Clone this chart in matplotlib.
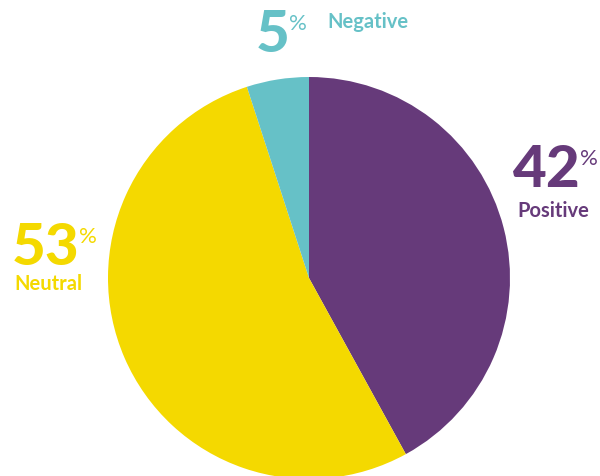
import matplotlib
matplotlib.use("Agg")
import matplotlib.pyplot as plt

labels = ["Positive", "Neutral", "Negative"]
values = [42, 53, 5]
colors = ["#663a7a", "#f4d900", "#66c1c7"]

W, H = 600, 477
fig = plt.figure(figsize=(W / 100, H / 100), dpi=100)
cx, cy, r = 309, 279, 201
ax = fig.add_axes([(cx - r) / W, 1 - (cy + r) / H, 2 * r / W, 2 * r / H])
ax.pie(values, colors=colors, startangle=90, counterclock=False, radius=1,
       wedgeprops=dict(linewidth=0))
ax.set_xlim(-1, 1)
ax.set_ylim(-1, 1)
ax.set_aspect("equal")
ax.axis("off")

def px(x, y):
    return x / W, 1 - y / H

font = "Lato"
# (digit left x, digit baseline y, label x, label baseline y)
pos = {
    "Negative": (256, 52, 327, 28),
    "Positive": (513, 187, 517, 217),
    "Neutral": (12, 265, 14, 290),
}
fig.canvas.draw()
renderer = fig.canvas.get_renderer()
for lab, val, col in zip(labels, values, colors):
    dx, dy, lx, ly = pos[lab]
    t = fig.text(*px(dx, dy), f"{val}", fontsize=42, fontweight=900, color=col,
                 family=font, ha="left", va="baseline")
    bb = t.get_window_extent(renderer=renderer)
    fig.text((bb.x1 - 1) / W, 1 - (dy - 22) / H, "%", fontsize=16,
             fontweight="normal", color=col, family=font, ha="left", va="baseline")
    fig.text(*px(lx, ly), lab, fontsize=14.5, fontweight="bold", color=col,
             family=font, ha="left", va="baseline")

fig.savefig("out.png", dpi=100)
